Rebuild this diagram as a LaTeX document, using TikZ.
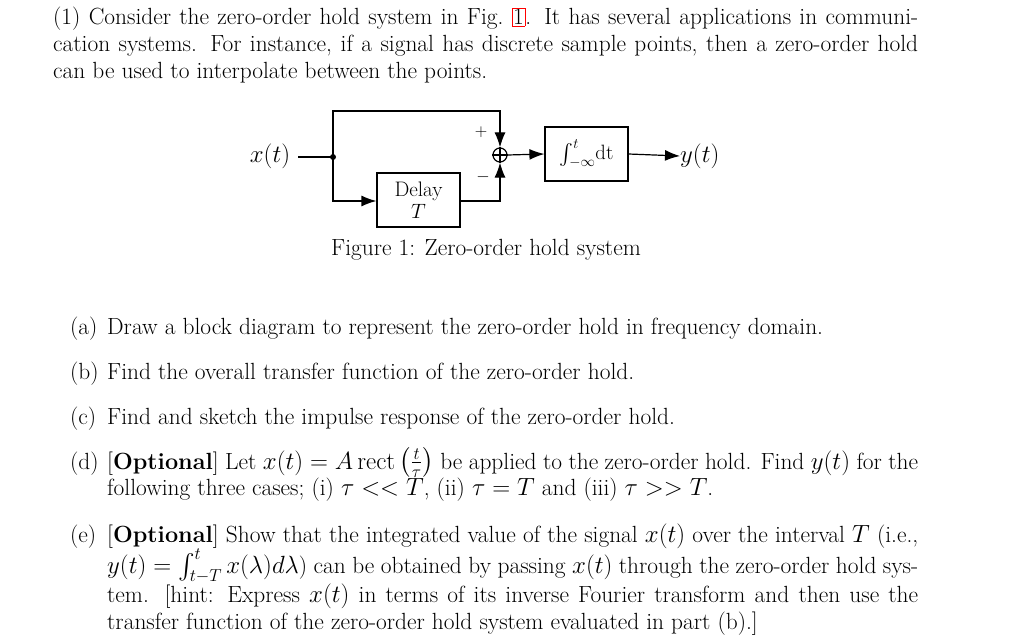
\documentclass[tikz,border=0pt]{standalone}
\usepackage{amsmath}
\usetikzlibrary{arrows.meta}
\begin{document}
\begin{tikzpicture}[x=1pt,y=-1pt,
  txt/.style={anchor=base west,inner sep=0,text width=#1,align=justify,font=\fontsize{23.4}{26.8}\selectfont},
  lbl/.style={anchor=base west,inner sep=0,font=\fontsize{23.4}{26.8}\selectfont},
  blk/.style={draw,line width=1.2pt,minimum width=83pt,minimum height=54pt,inner sep=0,font=\fontsize{21}{22}\selectfont,align=center},
  ar/.style={-{Latex[length=15pt,width=11pt]},line width=1.2pt},
  ln/.style={line width=1.2pt}]
\useasboundingbox (0,0) rectangle (1024,639);
\node[txt=865pt] (p1) at (53,25) {(1) Consider the zero-order hold system in Fig.~{\color{red}\fboxsep=1pt\fbox{\color{black}1}}. It has several applications in communi-\linebreak cation systems. For instance, if a signal has discrete sample points, then a zero-order hold\linebreak can be used to interpolate between the points.};
% diagram
\node[lbl,anchor=center] (x) at (270,156) {$x(t)$};
\coordinate (d) at (333,157);
\fill (d) circle (3pt);
\node[draw,circle,line width=1.2pt,minimum size=14pt,inner sep=0] (s) at (500,155) {};
\draw[ln] (s.north) -- (s.south) (s.west) -- (s.east);
\node[blk] (del) at (418.5,200) {Delay\\$T$};
\node[blk] (int) at (586.5,154) {$\int_{-\infty}^{t}\!\mathrm{dt}$};
\node[lbl,anchor=west] (y) at (680,156) {$y(t)$};
\coordinate (c1) at (333,111);
\coordinate (c2) at (500,111);
\coordinate (c3) at (333,201);
\coordinate (c4) at (500,201);
\draw[ln] (298,157) -- (d);
\draw[ar] (d) -- (c1) -- (c2) -- (s.north);
\draw[ar] (d) -- (c3) -- (del.west |- c3);
\draw[ar] (del.east |- c4) -- (c4) -- (s.south);
\draw[ar] (s.east) -- (int.west);
\draw[ar] (int.east) -- (y.west);
\node[lbl,anchor=center,font=\fontsize{18}{18}\selectfont] (pl) at (481,132) {$+$};
\node[lbl,anchor=center,font=\fontsize{18}{18}\selectfont] (mi) at (483,177) {$-$};
\node[lbl,anchor=center] (cap) at (486,250) {Figure 1: Zero-order hold system};
% items
\node[lbl] (la) at (70,334) {(a)};
\node[txt=811pt] (ta) at (107,334) {Draw a block diagram to represent the zero-order hold in frequency domain.};
\node[lbl] (lb) at (70,379) {(b)};
\node[txt=811pt] (tb) at (107,379) {Find the overall transfer function of the zero-order hold.};
\node[lbl] (lc) at (70,424) {(c)};
\node[txt=811pt] (tc) at (107,424) {Find and sketch the impulse response of the zero-order hold.};
\node[lbl] (ld) at (70,469) {(d)};
\node[txt=811pt] (td) at (107,469) {[\textbf{Optional}] Let $x(t)=A\,\mathrm{rect}\left(\frac{t}{\tau}\right)$ be applied to the zero-order hold. Find $y(t)$ for the\linebreak following three cases; (i) $\tau<<T$, (ii) $\tau=T$ and (iii) $\tau>>T$.};
\node[lbl] (le) at (70,542) {(e)};
\node[txt=811pt] (te) at (107,542) {[\textbf{Optional}] Show that the integrated value of the signal $x(t)$ over the interval $T$ (i.e.,\linebreak $y(t)=\int_{t-T}^{t}x(\lambda)d\lambda$) can be obtained by passing $x(t)$ through the zero-order hold sys-\linebreak tem. [hint: Express $x(t)$ in terms of its inverse Fourier transform and then use the\linebreak transfer function of the zero-order hold system evaluated in part (b).]};
\end{tikzpicture}
\end{document}
